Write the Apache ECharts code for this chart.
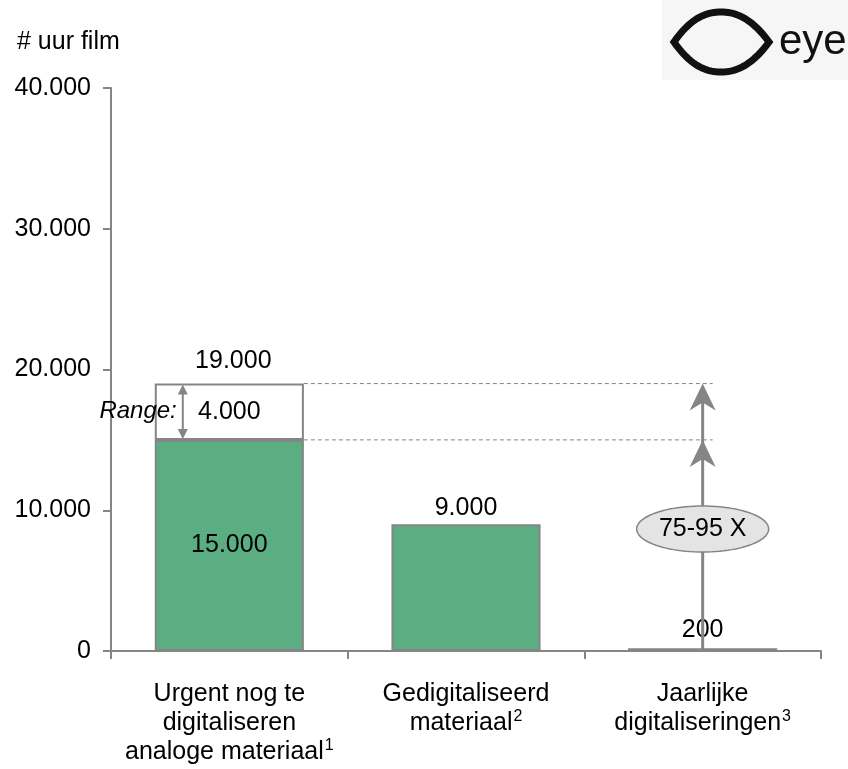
<!DOCTYPE html>
<html><head><meta charset="utf-8">
<script src="https://cdn.jsdelivr.net/npm/echarts@6/dist/echarts.min.js"></script>
<style>html,body{margin:0;padding:0;background:#fff}#c{width:848px;height:769px}</style>
</head><body><div id="c"></div>
<script>
const categories = ['Urgent nog te\ndigitaliseren\nanaloge materiaal', 'Gedigitaliseerd\nmateriaal', 'Jaarlijke\ndigitaliseringen'];
const footnotes = ['1', '2', '3'];
const measuredValues = [15000, 9000, 200];
const rangeValues = [4000, null, null];
const yMin = 0, yMax = 40000, yInterval = 10000;
const yAxisName = '# uur film';
const rangeLabel = 'Range:';
const multiplierLabel = '75-95 X';

const GREEN = '#5bae82', GRAY = '#858585', FONT = 'Liberation Sans, Arial, sans-serif';
function fmt(v) { return String(v).replace(/\B(?=(\d{3})+(?!\d))/g, '.'); }

const chart = echarts.init(document.getElementById('c'));
const option = {
  animation: false,
  textStyle: { fontFamily: FONT },
  title: { text: yAxisName, left: 12, top: 25, textStyle: { fontSize: 25, fontWeight: 'normal', color: '#000', fontFamily: FONT } },
  grid: { left: 111, right: 27, top: 88, bottom: 118 },
  xAxis: {
    type: 'category',
    data: categories,
    axisLine: { lineStyle: { color: GRAY, width: 2 } },
    axisTick: { show: true, length: 8, lineStyle: { color: GRAY, width: 2 } },
    axisLabel: {
      margin: 29, fontSize: 25, lineHeight: 29, color: '#000', fontFamily: FONT, interval: 0,
      formatter: (v, i) => {
        const lines = v.split('\n').map(l => '{t|' + l + '}');
        lines[lines.length - 1] += '{s|' + footnotes[i] + '}';
        return lines.join('\n');
      },
      rich: {
        t: { fontSize: 25, lineHeight: 29, color: '#000', fontFamily: FONT },
        s: { fontSize: 16, lineHeight: 29, color: '#000', fontFamily: FONT, verticalAlign: 'top', padding: [0, 0, 0, 1] }
      }
    }
  },
  yAxis: {
    type: 'value', min: yMin, max: yMax, interval: yInterval,
    axisLine: { show: true, lineStyle: { color: GRAY, width: 2 } },
    axisTick: { show: true, length: 8, lineStyle: { color: GRAY, width: 2 } },
    splitLine: { show: false },
    axisLabel: { margin: 20, fontSize: 25, color: '#000', fontFamily: FONT, formatter: v => fmt(v) }
  },
  series: [
    {
      type: 'bar', stack: 's', barWidth: '63%',
      data: measuredValues.map((v, i) => ({
        value: v,
        itemStyle: i === 2 ? { color: GRAY, borderWidth: 0 } : { color: GREEN, borderColor: GRAY, borderWidth: 2 },
        label: { position: i === 0 ? 'inside' : 'top', distance: i === 2 ? 6 : 4 }
      })),
      label: { show: true, fontSize: 25, color: '#000', fontFamily: FONT, formatter: p => fmt(p.value) }
    },
    {
      type: 'bar', stack: 's', barWidth: '63%',
      data: rangeValues,
      itemStyle: { color: '#fff', borderColor: GRAY, borderWidth: 2 },
      label: { show: true, position: 'inside', fontSize: 25, color: '#000', fontFamily: FONT, formatter: p => p.value == null ? '' : fmt(p.value) }
    }
  ]
};
chart.setOption(option);

const P = (i, v) => chart.convertToPixel({ xAxisIndex: 0, yAxisIndex: 0 }, [i, v]);
const cw = P(1, 0)[0] - P(0, 0)[0];
const bw = cw * 0.63;
const total = measuredValues[0] + rangeValues[0];
const yTop = P(0, total)[1], yMid = P(0, measuredValues[0])[1], y0 = P(0, 0)[1];
const x0 = P(0, 0)[0], x2 = P(2, 0)[0];
const barRight = x0 + bw / 2, barLeft = x0 - bw / 2;

function stealth(x, y) {
  return { type: 'polygon', shape: { points: [[x, y], [x - 13, y + 27], [x, y + 19], [x + 13, y + 27]] }, style: { fill: GRAY }, z: 20 };
}
function ellipsePts(cx, cy, rx, ry) {
  const pts = [];
  for (let i = 0; i < 96; i++) { const t = i / 96 * Math.PI * 2; pts.push([cx + rx * Math.cos(t), cy + ry * Math.sin(t)]); }
  return pts;
}
function cubic(p0, p1, p2, p3, n, out) {
  for (let i = 0; i < n; i++) {
    const t = i / n, u = 1 - t;
    out.push([u*u*u*p0[0] + 3*u*u*t*p1[0] + 3*u*t*t*p2[0] + t*t*t*p3[0], u*u*u*p0[1] + 3*u*u*t*p1[1] + 3*u*t*t*p2[1] + t*t*t*p3[1]]);
  }
}
const lens = [];
cubic([674, 42], [690, 19], [705, 12], [721, 12], 20, lens);
cubic([721, 12], [737, 12], [752, 19], [769, 42], 20, lens);
cubic([769, 42], [752, 65], [737, 72], [721, 72], 20, lens);
cubic([721, 72], [705, 72], [690, 65], [674, 42], 20, lens);

const ax = barLeft + 28;
const g = [
  // logo
  { type: 'rect', shape: { x: 662, y: 0, width: 186, height: 80 }, style: { fill: '#f6f6f6' }, z: 1 },
  { type: 'polygon', shape: { points: lens }, style: { fill: 'none', stroke: '#111', lineWidth: 7, lineJoin: 'miter' }, z: 2 },
  { type: 'text', x: 779, y: 42, style: { text: 'eye', font: '42px ' + FONT, fill: '#111', verticalAlign: 'middle', align: 'left' }, z: 2 },
  // dashed lines
  { type: 'line', shape: { x1: barRight, y1: yTop, x2: x2 + 10, y2: yTop }, style: { stroke: GRAY, lineWidth: 1, lineDash: [4, 3] }, z: 10 },
  { type: 'line', shape: { x1: barRight, y1: yMid, x2: x2 + 10, y2: yMid }, style: { stroke: GRAY, lineWidth: 1, lineDash: [4, 3] }, z: 10 },
  // vertical arrow
  { type: 'line', shape: { x1: x2, y1: y0, x2: x2, y2: yTop + 10 }, style: { stroke: GRAY, lineWidth: 3 }, z: 15 },
  stealth(x2, yTop), stealth(x2, yMid),
  { type: 'polygon', shape: { points: ellipsePts(x2, 529, 66, 23) }, style: { fill: '#e4e4e4', stroke: GRAY, lineWidth: 1.5 }, z: 25 },
  { type: 'text', x: x2, y: 529, style: { text: multiplierLabel, font: '25px ' + FONT, fill: '#000', align: 'center', verticalAlign: 'middle' }, z: 26 },
  // range arrow
  { type: 'line', shape: { x1: ax, y1: yTop + 8, x2: ax, y2: yMid - 8 }, style: { stroke: GRAY, lineWidth: 2 }, z: 20 },
  { type: 'polygon', shape: { points: [[ax, yTop + 1], [ax - 5, yTop + 11], [ax + 5, yTop + 11]] }, style: { fill: GRAY }, z: 20 },
  { type: 'polygon', shape: { points: [[ax, yMid - 1], [ax - 5, yMid - 11], [ax + 5, yMid - 11]] }, style: { fill: GRAY }, z: 20 },
  { type: 'text', x: ax - 6, y: (yTop + yMid) / 2, style: { text: rangeLabel, font: 'italic 24px ' + FONT, fill: '#000', align: 'right', verticalAlign: 'middle' }, z: 20 },
  { type: 'text', x: x0 + 4, y: yTop - 22, style: { text: fmt(total), font: '25px ' + FONT, fill: '#000', align: 'center', verticalAlign: 'middle' }, z: 20 }
];
chart.setOption({ graphic: g });
</script>
</body></html>
